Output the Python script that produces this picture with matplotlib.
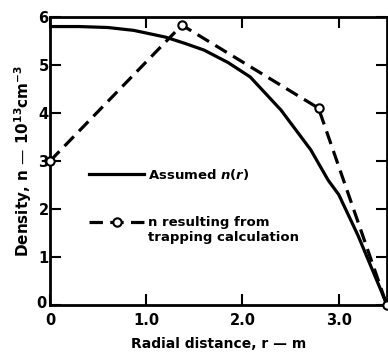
import matplotlib
matplotlib.use('Agg')
import matplotlib.pyplot as plt
from matplotlib.lines import Line2D
import matplotlib.transforms as mtransforms

# assumed density profile
r_assumed = [0.0, 0.3, 0.6, 0.87, 1.2, 1.4, 1.6, 1.85, 2.08, 2.4, 2.71, 2.89, 3.0, 3.2, 3.44, 3.5]
n_assumed = [5.8, 5.8, 5.78, 5.72, 5.58, 5.45, 5.31, 5.05, 4.75, 4.06, 3.23, 2.6, 2.3, 1.45, 0.3, 0.0]

# density from trapping calculation
r_trap = [0.0, 1.37, 2.79, 3.5]
n_trap = [3.0, 5.83, 4.1, 0.0]

xticks = [0, 1.0, 2.0, 3.0]
xticklabels = ['0', '1.0', '2.0', '3.0']
yticks = [0, 1, 2, 3, 4, 5, 6]

plt.rcParams['font.family'] = 'DejaVu Sans'
plt.rcParams['font.weight'] = 'bold'

fig = plt.figure(figsize=(3.88, 3.53), dpi=100)
ax = fig.add_axes([0.129, 0.136, 0.868, 0.816])

ax.plot(r_assumed, n_assumed, 'k-', lw=2.3)
ax.plot(r_trap, n_trap, 'k--', lw=2.3, dashes=(4.2, 2.3),
        marker='o', ms=6, mfc='white', mec='black', mew=1.5, clip_on=False, zorder=3)

ax.set_xlim(0, 3.5)
ax.set_ylim(0, 6)
ax.set_xticks(xticks)
ax.set_xticklabels(xticklabels)
ax.set_yticks(yticks)
ax.tick_params(direction='in', length=8, width=1.5, top=True, right=True,
               labelsize=10.5)
ax.tick_params(axis='x', pad=6)
ax.tick_params(axis='y', pad=1)
for s in ax.spines.values():
    s.set_linewidth(2)

# nudge the corner "0" on the y axis up a bit so it clears the x "0"
ylab0 = ax.get_yticklabels()[0]
ylab0.set_transform(ylab0.get_transform() + mtransforms.ScaledTranslation(-2/100, 3/100, fig.dpi_scale_trans))

ax.set_xlabel('Radial distance, r \u2014 m', fontsize=10, fontweight='bold', labelpad=6)
ax.set_ylabel('Density, n \u2014 10$^{\\mathbf{13}}$cm$^{\\mathbf{-3}}$', fontsize=11,
              fontweight='bold', labelpad=2)

h1 = Line2D([], [], color='k', lw=2.3)
h2 = Line2D([], [], color='k', lw=2.3, ls='--', dashes=(4.2, 2.3),
            marker='o', ms=6, mfc='white', mec='black', mew=1.5)
leg = ax.legend([h1, h2], ['Assumed $n(r)$', 'n resulting from'],
                loc='upper left', bbox_to_anchor=(0.08, 0.52), frameon=False,
                handlelength=4.2, handletextpad=0.3, labelspacing=2.6,
                prop={'size': 9.5, 'weight': 'bold'})

# second line of the second legend label, placed under its first line
fig.canvas.draw()
t2 = leg.get_texts()[1]
bb = t2.get_window_extent()
x0, y0 = fig.transFigure.inverted().transform((bb.x0, bb.y0))
fig.text(x0, y0 - 0.005, 'trapping calculation', fontsize=9.5, fontweight='bold',
         ha='left', va='top')

fig.savefig('out.png', dpi=100)
